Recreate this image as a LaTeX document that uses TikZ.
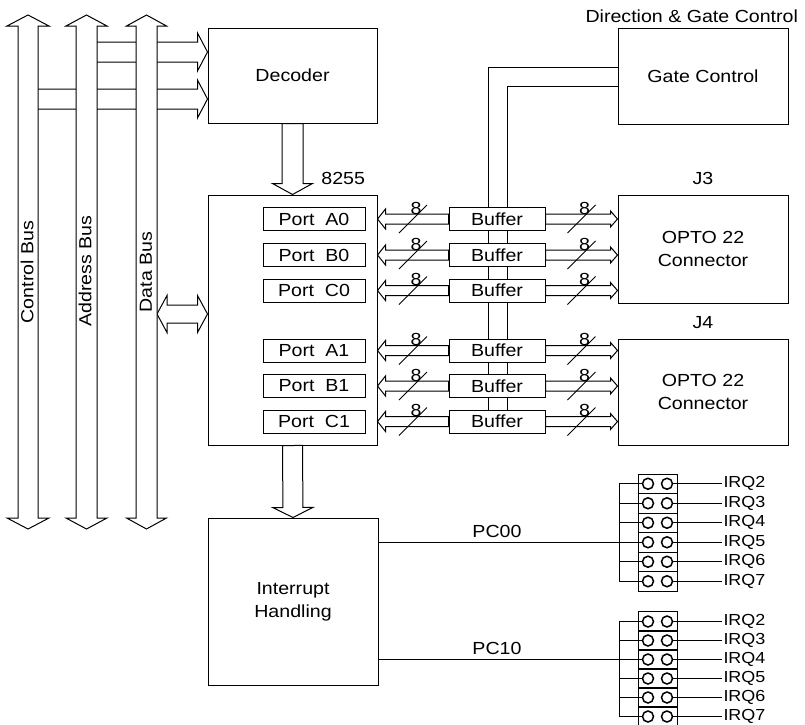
\documentclass[tikz,border=0pt]{standalone}
\usepackage{fontspec}
\setmainfont{Liberation Sans}[FakeStretch=1.12]
\usepackage{tikz}
\usetikzlibrary{calc}
\usetikzlibrary{positioning}
\usetikzlibrary{backgrounds}

\tikzset{
    box/.style={draw, fill=white, line width=1pt, inner sep=0pt},
    portbox/.style={box, minimum width=102pt, minimum height=23pt},
    bufbox/.style={box, minimum width=96pt, minimum height=23pt},
    jrow/.style={draw, line width=1pt, minimum width=39pt, minimum height=19.5pt, inner sep=0pt},
    pin/.style={draw, circle, line width=1.5pt, minimum size=11pt, inner sep=0pt},
    wire/.style={line width=1pt},
    fat/.style={draw, fill=white, line width=1pt, line join=miter},
    irqlbl/.style={right, inner sep=1pt, font=\fontsize{16}{18}\selectfont},
}

% hollow arrow, head at #5
\newcommand{\fatarrow}[5]{%
    \path (#4) coordinate (fa-p) (#5) coordinate (fa-q);
    \coordinate (fa-b) at ($(fa-q)!#3!(fa-p)$);
    \path[fat] ($(fa-p)!#1!90:(fa-q)$) -- ($(fa-b)!#1!90:(fa-q)$) -- ($(fa-b)!#2!90:(fa-q)$) -- (fa-q)
        -- ($(fa-b)!#2!-90:(fa-q)$) -- ($(fa-b)!#1!-90:(fa-q)$) -- ($(fa-p)!#1!-90:(fa-q)$) -- cycle;
}
% hollow arrow, heads at both ends
\newcommand{\fatarrows}[5]{%
    \path (#4) coordinate (fa-p) (#5) coordinate (fa-q);
    \coordinate (fa-b) at ($(fa-q)!#3!(fa-p)$);
    \coordinate (fa-c) at ($(fa-p)!#3!(fa-q)$);
    \path[fat] (fa-p) -- ($(fa-c)!#2!90:(fa-q)$) -- ($(fa-c)!#1!90:(fa-q)$) -- ($(fa-b)!#1!90:(fa-q)$)
        -- ($(fa-b)!#2!90:(fa-q)$) -- (fa-q) -- ($(fa-b)!#2!-90:(fa-q)$) -- ($(fa-b)!#1!-90:(fa-q)$)
        -- ($(fa-c)!#1!-90:(fa-q)$) -- ($(fa-c)!#2!-90:(fa-q)$) -- cycle;
}
% 8 bit mark on a link
\newcommand{\eightbit}[3]{%
    \path (#1) coordinate (eb-a) (#2) coordinate (eb-b);
    \coordinate (eb-m) at ($(eb-a)!0.5!(eb-b)$);
    \draw[wire] ($(eb-m)+(-14,14)$) -- ($(eb-m)+(14,-14)$);
    \node[inner sep=0pt] (#3) at ($(eb-m)+(3,-11)$) {8};
}
% port -- buffer -- connector
\newcommand{\portlink}[2]{%
    \fatarrow{5pt}{10pt}{8pt}{#1.west}{chip.east |- #1.west}
    \eightbit{chip.east |- #1.west}{#1.west}{#1-l8}
    \fatarrow{5pt}{8pt}{7pt}{#1.east}{#2.west |- #1.east}
    \eightbit{#1.east}{#2.west |- #1.east}{#1-r8}
}

\begin{document}
\begin{tikzpicture}[x=1pt, y=-1pt, font=\fontsize{17.5}{23}\selectfont]
    \useasboundingbox (0,0) rectangle (805,724);

    \node[box, minimum width=169pt, minimum height=95pt] (dec) at (292.5,75.5) {Decoder};
    \node[box, minimum width=169pt, minimum height=250pt] (chip) at (292.5,320) {};
    \node[anchor=south east] (lbl8255) at ($(chip.north east)+(-9,-6)$) {8255};
    \node[box, minimum width=170pt, minimum height=167pt, align=center] (irq) at (293,601.5) {Interrupt\\Handling};

    \node[box, minimum width=170pt, minimum height=96pt] (gate) at (703,76) {Gate Control};
    \node[anchor=south east] (lbldir) at ($(gate.north east)+(13,-1)$) {Direction \& Gate Control};
    \node[box, minimum width=170pt, minimum height=108pt, align=center] (j3) at (703,249) {OPTO 22\\Connector};
    \node[above=6pt of j3] (lblj3) {J3};
    \node[box, minimum width=170pt, minimum height=106pt, align=center] (j4) at (703,392) {OPTO 22\\Connector};
    \node[above=6pt of j4] (lblj4) {J4};

    % ports of the 8255
    \node[portbox] (pA0) at (314,219) {Port\ \ A0};
    \node[portbox] (pB0) at (314,255) {Port\ \ B0};
    \node[portbox] (pC0) at (314,290.5) {Port\ \ C0};
    \node[portbox] (pA1) at (314,350.5) {Port\ \ A1};
    \node[portbox] (pB1) at (314,386) {Port\ \ B1};
    \node[portbox] (pC1) at (314,421.5) {Port\ \ C1};

    \node[bufbox] (bA0) at (497,219) {Buffer};
    \node[bufbox] (bB0) at (497,255) {Buffer};
    \node[bufbox] (bC0) at (497,290.5) {Buffer};
    \node[bufbox] (bA1) at (497,350.5) {Buffer};
    \node[bufbox] (bB1) at (497,386) {Buffer};
    \node[bufbox] (bC1) at (497,421.5) {Buffer};

    \begin{scope}[on background layer]
        \draw[wire] ($(gate.west)+(0,-9)$) -| ($(bC1.center)+(-9,0)$);
        \draw[wire] ($(gate.west)+(0,10)$) -| ($(bC1.center)+(10,0)$);
    \end{scope}

    \portlink{bA0}{j3}
    \portlink{bB0}{j3}
    \portlink{bC0}{j3}
    \portlink{bA1}{j4}
    \portlink{bB1}{j4}
    \portlink{bC1}{j4}

    \fatarrow{10.5pt}{20pt}{11pt}{dec.south}{chip.north}
    \fatarrow{10pt}{20pt}{10pt}{chip.south}{irq.north}

    % system bus
    \coordinate (ab1) at (86.5,52);
    \coordinate (cb2) at (28,99);
    \coordinate (dbR) at (157,314);
    \fatarrow{10pt}{19pt}{10pt}{ab1}{dec.west |- ab1}
    \fatarrow{10pt}{19pt}{10pt}{cb2}{dec.west |- cb2}
    \fatarrows{9pt}{18.5pt}{10pt}{dbR}{chip.west |- dbR}

    \coordinate (cbT) at (28,15);   \coordinate (cbB) at (28,529);
    \coordinate (abT) at (86.5,15); \coordinate (abB) at (86.5,529);
    \coordinate (dbT) at (146.5,15); \coordinate (dbB) at (146.5,529);
    \fatarrows{10pt}{21pt}{11pt}{cbB}{cbT}
    \fatarrows{10.5pt}{20.5pt}{11pt}{abB}{abT}
    \fatarrows{10.5pt}{20pt}{11pt}{dbB}{dbT}
    \node[rotate=90, inner sep=0pt] (lblcb) at (27,272) {Control Bus};
    \node[rotate=90, inner sep=0pt] (lblab) at (85,271) {Address Bus};
    \node[rotate=90, inner sep=0pt] (lbldb) at (146,272) {Data Bus};

    % IRQ jumpers
    \coordinate (jbus) at (619,0);
    \coordinate (jend) at (722,0);
    \foreach \i/\q in {1/2,2/3,3/4,4/5,5/6,6/7}{
        \node[jrow] (ja\i) at (657.5,{464.25+19.5*\i}) {};
        \node[pin] (jal\i) at ($(ja\i)+(-9.5,0)$) {};
        \node[pin] (jar\i) at ($(ja\i)+(9.5,0)$) {};
        \draw[wire] (jal\i.west) -- (jal\i.west -| jbus);
        \draw[wire] (jar\i.east) -- (jar\i.east -| jend) node[irqlbl] (jaq\i) {IRQ\q};

        \node[jrow] (jb\i) at (657.5,{602.5+19*\i}) {};
        \node[pin] (jbl\i) at ($(jb\i)+(-9.5,0)$) {};
        \node[pin] (jbr\i) at ($(jb\i)+(9.5,0)$) {};
        \draw[wire] (jbl\i.west) -- (jbl\i.west -| jbus);
        \draw[wire] (jbr\i.east) -- (jbr\i.east -| jend) node[irqlbl] (jbq\i) {IRQ\q};
    }
    \draw[wire] (jal1.west -| jbus) -- (jal6.west -| jbus);
    \draw[wire] (jbl1.west -| jbus) -- (jbl6.west -| jbus);

    \draw[wire] (irq.east |- jal4.west) -- (jal4.west) node[pos=0.45, above=1pt, inner sep=3pt] (pc00) {PC00};
    \draw[wire] (irq.east |- jbl3.west) -- (jbl3.west) node[pos=0.45, above=1pt, inner sep=3pt] (pc10) {PC10};
\end{tikzpicture}
\end{document}
